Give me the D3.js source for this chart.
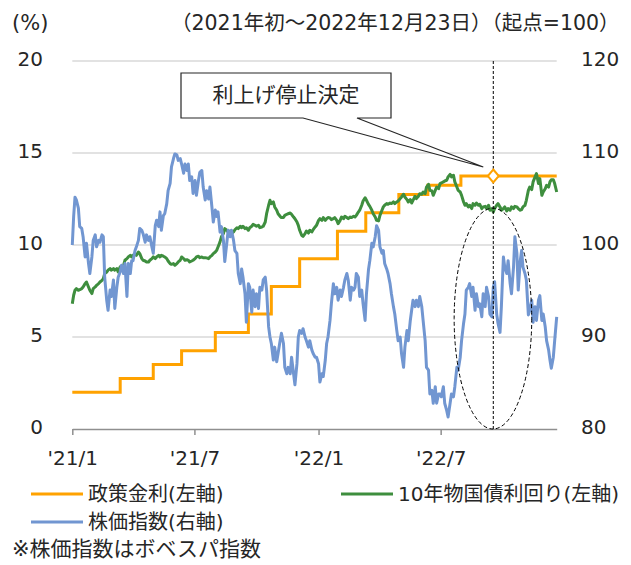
<!DOCTYPE html>
<html lang="ja">
<head>
<meta charset="utf-8">
<script src="https://cdn.jsdelivr.net/npm/d3@7"></script>
<style>
  body { margin: 0; background: #fff; }
  svg text { font-family: "DejaVu Sans", "Noto Sans CJK JP", sans-serif; fill: #262626; }
</style>
</head>
<body>
<svg id="chart" width="631" height="565"></svg>
<script>
// 日付（2021年初～2022年12月）
const dates = [
  '2021-01-01','2021-01-03','2021-01-05','2021-01-07','2021-01-10','2021-01-12','2021-01-15','2021-01-17','2021-01-20','2021-01-22',
  '2021-01-25','2021-01-27','2021-01-30','2021-02-01','2021-02-04','2021-02-06','2021-02-09','2021-02-11','2021-02-14','2021-02-16',
  '2021-02-18','2021-02-21','2021-02-23','2021-02-26','2021-02-28','2021-03-03','2021-03-05','2021-03-08','2021-03-10','2021-03-13',
  '2021-03-15','2021-03-18','2021-03-20','2021-03-23','2021-03-25','2021-03-28','2021-03-30','2021-04-01','2021-04-04','2021-04-06',
  '2021-04-09','2021-04-11','2021-04-14','2021-04-16','2021-04-19','2021-04-21','2021-04-24','2021-04-26','2021-04-29','2021-05-01',
  '2021-05-04','2021-05-06','2021-05-09','2021-05-11','2021-05-13','2021-05-16','2021-05-18','2021-05-21','2021-05-23','2021-05-26',
  '2021-05-28','2021-05-31','2021-06-02','2021-06-05','2021-06-07','2021-06-10','2021-06-12','2021-06-15','2021-06-17','2021-06-20',
  '2021-06-22','2021-06-24','2021-06-27','2021-06-29','2021-07-02','2021-07-04','2021-07-07','2021-07-09','2021-07-12','2021-07-14',
  '2021-07-17','2021-07-19','2021-07-22','2021-07-24','2021-07-27','2021-07-29','2021-08-01','2021-08-03','2021-08-05','2021-08-08',
  '2021-08-10','2021-08-13','2021-08-15','2021-08-18','2021-08-20','2021-08-23','2021-08-25','2021-08-28','2021-08-30','2021-09-02',
  '2021-09-04','2021-09-07','2021-09-09','2021-09-11','2021-09-14','2021-09-16','2021-09-19','2021-09-21','2021-09-24','2021-09-26',
  '2021-09-29','2021-10-01','2021-10-04','2021-10-06','2021-10-09','2021-10-11','2021-10-14','2021-10-16','2021-10-19','2021-10-21',
  '2021-10-23','2021-10-26','2021-10-28','2021-10-31','2021-11-02','2021-11-05','2021-11-07','2021-11-10','2021-11-12','2021-11-15',
  '2021-11-17','2021-11-20','2021-11-22','2021-11-25','2021-11-27','2021-11-30','2021-12-02','2021-12-04','2021-12-07','2021-12-09',
  '2021-12-12','2021-12-14','2021-12-17','2021-12-19','2021-12-22','2021-12-24','2021-12-27','2021-12-29','2022-01-01','2022-01-03',
  '2022-01-06','2022-01-08','2022-01-11','2022-01-13','2022-01-15','2022-01-18','2022-01-20','2022-01-23','2022-01-25','2022-01-28',
  '2022-01-30','2022-02-02','2022-02-04','2022-02-07','2022-02-09','2022-02-12','2022-02-14','2022-02-17','2022-02-19','2022-02-22',
  '2022-02-24','2022-02-26','2022-03-01','2022-03-03','2022-03-06','2022-03-08','2022-03-11','2022-03-13','2022-03-16','2022-03-18',
  '2022-03-21','2022-03-23','2022-03-26','2022-03-28','2022-03-31','2022-04-02','2022-04-05','2022-04-07','2022-04-09','2022-04-12',
  '2022-04-14','2022-04-17','2022-04-19','2022-04-22','2022-04-24','2022-04-27','2022-04-29','2022-05-02','2022-05-04','2022-05-07',
  '2022-05-09','2022-05-12','2022-05-14','2022-05-17','2022-05-19','2022-05-21','2022-05-24','2022-05-26','2022-05-29','2022-05-31',
  '2022-06-03','2022-06-05','2022-06-08','2022-06-10','2022-06-13','2022-06-15','2022-06-18','2022-06-20','2022-06-23','2022-06-25',
  '2022-06-28','2022-06-30','2022-07-02','2022-07-05','2022-07-07','2022-07-10','2022-07-12','2022-07-15','2022-07-17','2022-07-20',
  '2022-07-22','2022-07-25','2022-07-27','2022-07-30','2022-08-01','2022-08-04','2022-08-06','2022-08-08','2022-08-11','2022-08-13',
  '2022-08-16','2022-08-18','2022-08-21','2022-08-23','2022-08-26','2022-08-28','2022-08-31','2022-09-02','2022-09-05','2022-09-07',
  '2022-09-10','2022-09-12','2022-09-15','2022-09-17','2022-09-19','2022-09-22','2022-09-24','2022-09-27','2022-09-29','2022-10-02',
  '2022-10-04','2022-10-07','2022-10-09','2022-10-12','2022-10-14','2022-10-17','2022-10-19','2022-10-22','2022-10-24','2022-10-27',
  '2022-10-29','2022-10-31','2022-11-03','2022-11-05','2022-11-08','2022-11-10','2022-11-13','2022-11-15','2022-11-18','2022-11-20',
  '2022-11-23','2022-11-25','2022-11-28','2022-11-30','2022-12-03','2022-12-05','2022-12-08','2022-12-10','2022-12-12','2022-12-15',
  '2022-12-17','2022-12-20'
];

// 株価指数（ボベスパ、起点=100、右軸）
const stockIndex = [
  100.0,103.1,105.2,104.9,104.0,102.0,101.8,100.9,98.7,100.2,
  98.0,96.9,98.7,100.5,101.1,99.8,100.5,100.3,101.1,100.9,
  96.5,94.0,92.9,95.1,94.4,96.2,93.1,95.4,96.5,97.1,
  97.8,96.9,98.0,94.4,98.0,96.9,98.3,98.3,99.4,99.8,
  100.5,101.8,101.6,101.2,100.3,101.1,100.5,100.9,99.8,99.1,
  102.1,102.7,102.0,103.6,101.6,103.2,103.4,104.5,105.9,106.7,
  108.5,109.4,109.9,109.8,109.2,109.4,108.8,107.8,108.8,108.1,
  108.8,107.0,107.4,105.6,107.0,105.4,107.0,
  107.9,108.1,106.3,104.9,105.9,105.0,106.3,104.1,102.5,103.8,
  103.1,103.6,101.4,102.0,100.5,98.2,100.2,101.6,100.9,101.6,
  100.5,99.4,99.1,96.9,95.8,97.4,96.5,94.7,91.6,95.8,
  95.4,92.7,95.1,93.3,94.7,93.1,95.4,95.1,96.2,96.5,
  95.1,91.1,90.0,89.3,87.5,88.9,87.3,88.2,89.6,90.4,
  89.3,86.7,86.0,86.7,86.0,87.8,86.0,84.8,87.1,90.0,
  90.7,90.4,90.9,90.0,89.6,88.9,89.6,88.6,88.2,87.8,
  87.8,87.1,85.1,86.0,85.7,87.5,89.3,90.0,
  91.8,93.6,95.8,94.7,95.4,94.0,95.1,94.4,95.4,96.2,
  96.9,96.2,94.0,95.4,95.1,95.4,96.9,96.5,94.4,95.1,
  93.6,91.8,94.7,97.3,98.3,100.2,99.8,100.9,102.1,101.6,
  99.8,99.1,99.4,98.0,97.4,96.9,95.8,94.7,93.3,92.5,
  90.7,89.6,90.0,88.2,86.7,88.9,90.7,89.6,91.8,92.9,
  94.0,93.3,94.0,93.3,94.4,93.3,91.8,89.6,86.7,86.4,
  83.8,84.2,82.8,84.6,82.8,83.8,83.8,
  83.5,84.6,82.8,82.0,81.3,82.8,83.8,83.5,84.6,86.7,
  86.4,87.8,89.6,91.5,92.5,95.1,95.4,95.8,94.4,95.4,
  92.9,94.7,93.3,93.6,92.2,94.7,93.3,95.4,94.4,92.5,
  92.2,95.4,96.0,92.5,91.5,90.5,93.3,98.7,97.6,96.9,
  98.3,95.8,94.7,97.6,100.9,99.1,95.1,98.3,99.4,97.6,
  96.9,96.2,92.4,92.9,94.0,91.6,93.3,91.8,94.0,94.5,
  91.8,92.5,91.1,89.6,88.6,87.5,86.6,87.8,89.6,92.2
];

// 10年物国債利回り（%、左軸）
const bondYield = [
  6.81,7.27,7.54,7.63,7.54,7.57,7.63,7.72,7.90,7.99,
  7.72,7.54,7.36,7.63,7.72,7.81,7.90,7.99,8.08,8.17,
  8.44,8.53,8.63,8.72,8.63,8.72,8.63,8.72,8.53,8.81,
  8.63,8.90,9.17,9.26,9.35,9.44,9.35,9.44,9.53,9.44,
  9.62,9.53,9.26,9.17,9.13,9.08,9.08,9.17,9.26,9.35,
  9.26,9.35,9.44,9.35,9.44,9.39,9.35,9.26,9.13,8.99,
  8.95,8.99,8.90,8.99,9.08,9.17,9.35,9.26,9.17,9.20,
  9.17,9.08,9.13,9.17,9.26,9.35,9.39,
  9.31,9.35,9.31,9.31,9.30,9.26,9.35,9.44,9.53,9.62,
  9.71,9.89,10.17,10.44,10.62,10.89,10.80,10.71,10.76,10.62,
  10.71,10.83,10.94,10.89,11.02,10.94,11.02,10.89,10.94,10.80,
  10.94,11.02,11.12,11.07,11.02,11.07,10.94,10.98,11.02,11.25,
  11.70,12.16,12.43,12.25,12.34,12.07,11.89,11.70,11.56,11.49,
  11.49,11.61,11.67,11.70,11.74,11.67,11.52,11.43,11.25,11.07,
  10.80,10.53,10.47,10.62,10.76,10.65,10.80,10.71,10.83,10.98,
  11.07,11.34,11.43,11.34,11.49,11.34,11.43,11.49,
  11.47,11.38,11.43,11.49,11.34,11.16,11.34,11.52,11.43,11.56,
  11.49,11.43,11.52,11.49,11.56,11.52,11.61,11.79,11.89,12.16,
  12.39,12.57,12.43,12.21,12.10,11.89,11.70,11.52,11.34,11.31,
  11.61,11.89,12.07,12.16,12.25,12.21,12.28,12.25,12.34,12.25,
  12.34,12.39,12.52,12.61,12.76,12.61,12.47,12.34,12.47,12.28,
  12.43,12.65,12.52,12.65,12.79,12.76,12.88,12.79,13.15,13.30,
  12.97,12.94,12.70,12.97,13.15,13.06,13.34,
  13.37,13.43,13.48,13.52,13.70,13.84,13.70,13.79,13.43,13.15,
  12.97,12.88,12.70,12.34,12.16,12.25,12.07,12.16,11.98,12.25,
  12.16,12.28,12.16,12.21,11.98,12.07,12.10,11.98,12.16,11.89,
  11.98,11.79,11.98,12.16,12.25,12.07,11.89,11.98,12.07,11.85,
  11.98,11.89,12.07,11.98,12.10,12.07,11.98,11.89,11.92,12.07,
  12.16,12.43,12.97,13.15,13.01,13.43,13.70,13.88,13.34,13.61,
  12.70,12.88,13.06,13.24,13.15,13.43,13.55,13.55,13.34,12.88
];

// 政策金利（%、左軸）の変更日と水準
const policyDates = ['2021-01-01','2021-03-13','2021-05-01','2021-06-12','2021-08-01','2021-09-19','2021-10-23',
                     '2021-12-04','2022-01-29','2022-03-12','2022-04-30','2022-06-12','2022-07-31','2022-12-20'];
const policyRate = [2.00, 2.75, 3.50, 4.25, 5.25, 6.25, 7.75, 9.25, 10.75, 11.75, 12.75, 13.25, 13.75, 13.75];

// 軸
const leftTicks = [0, 5, 10, 15, 20];
const rightTicks = [80, 90, 100, 110, 120];
const xTickDates = ['2021-01-01', '2021-07-01', '2022-01-01', '2022-07-01'];

// 注記：利上げ停止決定
const haltDate = '2022-09-17';
const haltLabel = '利上げ停止決定';
const circleFrom = '2022-07-21', circleTo = '2022-11-13';

const colors = { policy: '#FFA200', bond: '#3E8E3E', stock: '#7196D1' };

const parse = d3.timeParse('%Y-%m-%d');

const svg = d3.select('#chart');

const x = d3.scaleTime()
    .domain([parse('2021-01-01'), parse('2022-12-20')])
    .range([72.3, 556.7]);
const yL = d3.scaleLinear().domain([0, 20]).range([429, 61]);
const yR = d3.scaleLinear().domain([80, 120]).range([429, 61]);

//Líneas de fondo
svg.append('g')
    .selectAll('line')
    .data(leftTicks.slice(1))
    .enter()
    .append('line')
    .attr('x1', x.range()[0]).attr('x2', x.range()[1])
    .attr('y1', d => yL(d)).attr('y2', d => yL(d))
    .attr('stroke', '#d9d9d9')
    .attr('stroke-width', 1.5);

//Eje X
let xAxis = d3.axisBottom(x)
    .tickValues(xTickDates.map(parse))
    .tickSizeInner(6)
    .tickSizeOuter(0)
    .tickPadding(16)
    .tickFormat(d => "'" + d3.timeFormat('%y')(d) + '/' + (d.getMonth() + 1));

svg.append('g')
    .attr('transform', 'translate(0,' + yL(0) + ')')
    .call(xAxis)
    .call(g => g.select('.domain').attr('stroke', '#8f8f8f').attr('stroke-width', 1.5))
    .call(g => g.selectAll('.tick line').attr('stroke', '#8f8f8f').attr('stroke-width', 1.5))
    .call(g => g.selectAll('.tick text').attr('font-size', 20));

//Etiquetas de ejes Y
svg.append('g')
    .selectAll('text')
    .data(leftTicks)
    .enter()
    .append('text')
    .attr('x', 43)
    .attr('y', d => yL(d) - 2)
    .attr('text-anchor', 'end')
    .attr('dominant-baseline', 'central')
    .attr('font-size', 20)
    .text(d => d);

svg.append('g')
    .selectAll('text')
    .data(rightTicks)
    .enter()
    .append('text')
    .attr('x', 581)
    .attr('y', d => yR(d) - 2)
    .attr('dominant-baseline', 'central')
    .attr('font-size', 20)
    .text(d => d);

svg.append('text')
    .attr('x', 12).attr('y', 23)
    .attr('dominant-baseline', 'central')
    .attr('font-size', 21)
    .text('(%)');

svg.append('text')
    .attr('x', 171).attr('y', 23)
    .attr('dominant-baseline', 'central')
    .attr('font-size', 20.5)
    .text('（2021年初～2022年12月23日）（起点=100）');

//Series
let policyLine = d3.line()
    .curve(d3.curveStepAfter)
    .x(d => x(parse(d[0])))
    .y(d => yL(d[1]));

svg.append('path')
    .datum(d3.zip(policyDates, policyRate))
    .attr('fill', 'none')
    .attr('stroke', colors.policy)
    .attr('stroke-width', 3)
    .attr('d', policyLine);

let bondLine = d3.line()
    .x(d => x(parse(d[0])))
    .y(d => yL(d[1]));

svg.append('path')
    .datum(d3.zip(dates, bondYield))
    .attr('fill', 'none')
    .attr('stroke', colors.bond)
    .attr('stroke-width', 3)
    .attr('stroke-linejoin', 'round')
    .attr('d', bondLine);

let stockLine = d3.line()
    .x(d => x(parse(d[0])))
    .y(d => yR(d[1]));

svg.append('path')
    .datum(d3.zip(dates, stockIndex))
    .attr('fill', 'none')
    .attr('stroke', colors.stock)
    .attr('stroke-width', 3)
    .attr('stroke-linejoin', 'round')
    .attr('d', stockLine);

//Anotaciones
let hx = x(parse(haltDate));
let haltRate = policyRate[policyRate.length - 1];

svg.append('line')
    .attr('x1', hx).attr('x2', hx)
    .attr('y1', yL(20)).attr('y2', yL(0))
    .attr('stroke', '#000')
    .attr('stroke-width', 1)
    .attr('stroke-dasharray', '3,2');

let cx0 = x(parse(circleFrom)), cx1 = x(parse(circleTo));
svg.append('ellipse')
    .attr('cx', (cx0 + cx1) / 2)
    .attr('cy', (yL(12) + yL(0)) / 2)
    .attr('rx', (cx1 - cx0) / 2)
    .attr('ry', (yL(0) - yL(12)) / 2)
    .attr('fill', 'none')
    .attr('stroke', '#000')
    .attr('stroke-width', 1)
    .attr('stroke-dasharray', '4,2.5');

svg.append('path')
    .attr('d', 'M0,-6.5L5.5,0L0,6.5L-5.5,0Z')
    .attr('transform', 'translate(' + hx + ',' + yL(haltRate) + ')')
    .attr('fill', '#fff')
    .attr('stroke', colors.policy)
    .attr('stroke-width', 2);

//Globo de texto
let box = { x0: 181, x1: 391, y0: 73, y1: 118, gap0: 303, gap1: 357 };
let tip = [hx - 10, yL(haltRate) - 9];
svg.append('path')
    .attr('d', 'M' + box.x0 + ',' + box.y0 + 'H' + box.x1 + 'V' + box.y1 + 'H' + box.gap1 +
        'L' + tip[0] + ',' + tip[1] + 'L' + box.gap0 + ',' + box.y1 + 'H' + box.x0 + 'Z')
    .attr('fill', '#fff')
    .attr('stroke', '#262626')
    .attr('stroke-width', 1.2);

svg.append('text')
    .attr('x', (box.x0 + box.x1) / 2)
    .attr('y', (box.y0 + box.y1) / 2 - 1)
    .attr('text-anchor', 'middle')
    .attr('dominant-baseline', 'central')
    .attr('font-size', 21)
    .text(haltLabel);

//Leyenda
const legendItems = [
    { label: '政策金利(左軸)', color: colors.policy, x: 31, y: 494 },
    { label: '10年物国債利回り(左軸)', color: colors.bond, x: 341, y: 494 },
    { label: '株価指数(右軸)', color: colors.stock, x: 31, y: 522 }
];

let legend = svg.append('g')
    .selectAll('g')
    .data(legendItems)
    .enter()
    .append('g')
    .attr('transform', d => 'translate(' + d.x + ',' + d.y + ')');

legend.append('line')
    .attr('x1', 0).attr('x2', 52)
    .attr('stroke', d => d.color)
    .attr('stroke-width', 3);

legend.append('text')
    .attr('x', 57)
    .attr('dominant-baseline', 'central')
    .attr('font-size', 20)
    .text(d => d.label);

svg.append('text')
    .attr('x', 12).attr('y', 549)
    .attr('dominant-baseline', 'central')
    .attr('font-size', 21)
    .text('※株価指数はボベスパ指数');
</script>
</body>
</html>
